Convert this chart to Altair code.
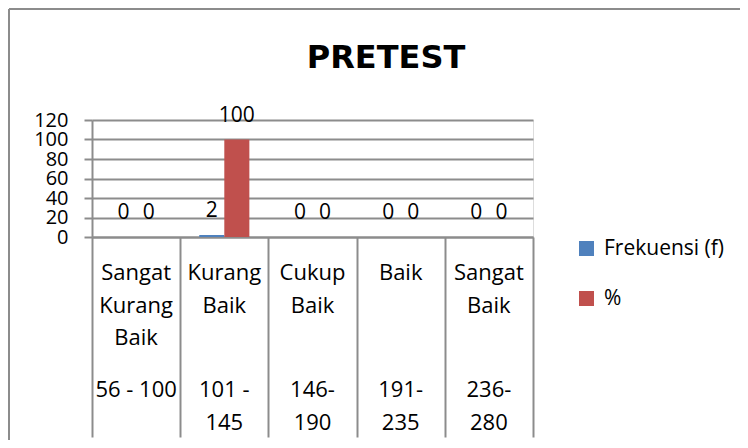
import altair as alt
import pandas as pd

categories = ["Sangat Kurang Baik", "Kurang Baik", "Cukup Baik", "Baik", "Sangat Baik"]
category_lines = ["Sangat|Kurang|Baik", "Kurang|Baik", "Cukup|Baik", "Baik", "Sangat|Baik"]
score_ranges = ["56 - 100", "101 -|145", "146-|190", "191-|235", "236-|280"]
series_names = ["Frekuensi (f)", "%"]
frekuensi = [0, 2, 0, 0, 0]
persen = [0, 100, 0, 0, 0]
y_ticks = [0, 20, 40, 60, 80, 100, 120]
colors = ["#4f81bd", "#c0504d"]
title_text = "PRETEST"

rows = []
for c, f, p in zip(categories, frekuensi, persen):
    rows.append({"kategori": c, "seri": series_names[0], "nilai": f})
    rows.append({"kategori": c, "seri": series_names[1], "nilai": p})
df = pd.DataFrame(rows)
labels_df = pd.DataFrame({"kategori": categories, "nama": category_lines, "rentang": score_ranges})

FONT = "Open Sans"
GRID = "#8c8c8c"

x_scale = alt.Scale(domain=categories, paddingInner=0, paddingOuter=0)
x_enc = alt.X("kategori:N", scale=x_scale, sort=categories,
              axis=alt.Axis(title=None, labels=False, domainColor=GRID, domainWidth=2,
                            tickColor=GRID, tickWidth=2, tickSize=200, tickBand="extent",
                            grid=False))
y_scale = alt.Scale(domain=[0, 120], nice=False)
y_enc = alt.Y("nilai:Q", scale=y_scale,
              axis=alt.Axis(title=None, values=y_ticks, labelFont=FONT, labelFontSize=20,
                            labelColor="black", labelPadding=16, tickSize=8, tickColor=GRID,
                            tickWidth=2, domainColor=GRID, domainWidth=2, grid=True,
                            gridColor=GRID, gridWidth=2, gridOpacity=1, labelBaseline="middle",
                            labelOverlap=False, labelFlush=False))
xo_enc = alt.XOffset("seri:N", sort=series_names,
                     scale=alt.Scale(domain=series_names, paddingOuter=0.76, paddingInner=0))
color_enc = alt.Color("seri:N", sort=series_names,
                      scale=alt.Scale(domain=series_names, range=colors),
                      legend=alt.Legend(title=None, orient="none", legendX=484, legendY=118,
                                        symbolType="square", symbolSize=225, symbolStrokeWidth=0,
                                        labelFont=FONT, labelFontSize=21, labelColor="black",
                                        rowPadding=28, padding=0, labelOffset=7))

bars = alt.Chart(df).mark_bar().encode(x=x_enc, xOffset=xo_enc, y=y_enc, color=color_enc)
values = alt.Chart(df).mark_text(font=FONT, fontSize=21, dy=-18, baseline="alphabetic",
                                 color="black").encode(
    x=x_enc, xOffset=xo_enc, y=y_enc, text=alt.Text("nilai:Q"))

names = alt.Chart(labels_df).mark_text(font=FONT, fontSize=22, lineBreak="|", lineHeight=32.5,
                                       baseline="alphabetic", align="center", color="black").encode(
    x=x_enc, y=alt.value(160), text="nama:N")
ranges = alt.Chart(labels_df).mark_text(font=FONT, fontSize=22, lineBreak="|", lineHeight=32.5,
                                        baseline="alphabetic", align="center", color="black").encode(
    x=x_enc, y=alt.value(277), text="rentang:N")

title = alt.Chart(pd.DataFrame({"t": [title_text]})).mark_text(
    font="DejaVu Sans", fontWeight="bold", fontSize=32, baseline="alphabetic", align="center",
    color="black").encode(x=alt.value(294), y=alt.value(-52), text="t:N")

frame_df = pd.DataFrame({"k": [0]})
frame_left = alt.Chart(frame_df).mark_rule(color=GRID, strokeWidth=2).encode(
    x=alt.value(-83), y=alt.value(-111), y2=alt.value(330))
frame_top = alt.Chart(frame_df).mark_rule(color=GRID, strokeWidth=2).encode(
    x=alt.value(-83), x2=alt.value(660), y=alt.value(-111))

chart = alt.layer(frame_left, frame_top, bars, values, names, ranges, title).properties(
    width=441, height=117,
    autosize=alt.AutoSizeParams(type="none"),
    padding={"left": 84, "top": 112, "right": 207, "bottom": 203},
).configure_view(stroke=None).configure(background="white")

chart.save("out.html", embed_options={"renderer": "svg", "actions": False})
